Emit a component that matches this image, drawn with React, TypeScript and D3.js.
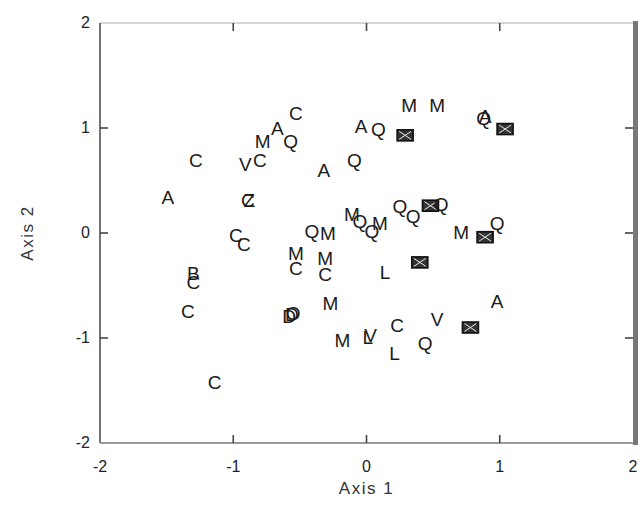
import React from "react";
import * as d3 from "d3";

// point labels and coordinates ("#" = boxed cross marker)
const pointLabels = [
  "C", "A", "M", "Q", "C", "V", "C", "A", "A", "C", "Z",
  "C", "C", "Q", "M", "M", "C", "M", "C", "B", "C", "C",
  "D", "D", "O", "M", "C", "M", "L", "V", "C", "L", "V", "Q",
  "#", "A", "L", "#", "M", "Q", "#",
  "M", "Q", "M", "Q", "Q", "Q", "#", "Q", "Q",
  "A", "Q", "#", "M", "M", "Q", "A", "#",
];
const axis1Values = [
  -0.53, -0.67, -0.78, -0.57, -1.28, -0.91, -0.80, -0.32, -1.49, -0.89, -0.88,
  -0.98, -0.92, -0.41, -0.29, -0.53, -0.53, -0.31, -0.31, -1.30, -1.30, -1.34,
  -0.58, -0.56, -0.55, -0.27, -1.14, -0.18, 0.01, 0.03, 0.23, 0.21, 0.53, 0.44,
  0.78, 0.98, 0.14, 0.40, 0.71, 0.98, 0.89,
  -0.11, -0.05, 0.10, 0.04, 0.25, 0.35, 0.48, 0.56, -0.09,
  -0.04, 0.09, 0.29, 0.32, 0.53, 0.88, 0.89, 1.04,
];
const axis2Values = [
  1.14, 1.0, 0.88, 0.88, 0.70, 0.66, 0.70, 0.60, 0.34, 0.31, 0.31,
  -0.02, -0.10, 0.02, 0.0, -0.19, -0.33, -0.24, -0.39, -0.38, -0.47, -0.74,
  -0.79, -0.77, -0.76, -0.67, -1.42, -1.02, -0.99, -0.97, -0.88, -1.14, -0.82, -1.05,
  -0.90, -0.65, -0.37, -0.28, 0.01, 0.10, -0.04,
  0.18, 0.11, 0.10, 0.02, 0.26, 0.16, 0.26, 0.28, 0.70,
  1.02, 0.99, 0.93, 1.22, 1.22, 1.10, 1.11, 0.99,
];
const tickValues = [-2, -1, 0, 1, 2];

const W = 638;
const H = 507;
const left = 100, right = 633, top = 23, bottom = 443;

const App = () => {
  const x = d3.scaleLinear().domain([-2, 2]).range([left, right]);
  const y = d3.scaleLinear().domain([-2, 2]).range([bottom, top]);
  const font = "Liberation Sans, Arial, sans-serif";
  const inner = tickValues.filter((t) => t !== -2 && t !== 2);

  return (
    <svg width={W} height={H} style={{ position: "absolute", left: 0, top: 0, background: "#fff" }}>
      {/* frame */}
      <line x1={left} x2={right} y1={top} y2={top} stroke="#c8c8c8" strokeWidth={1.5} />
      <line x1={left} x2={left} y1={top} y2={bottom} stroke="#444" strokeWidth={1.5} />
      <line x1={left} x2={right} y1={bottom} y2={bottom} stroke="#999" strokeWidth={2} />
      <rect x={right} y={top - 2} width={6} height={bottom - top + 4} fill="#777" />

      {/* ticks pointing inward */}
      {inner.map((t) => (
        <g key={"t" + t} stroke="#444" strokeWidth={1.6}>
          <line x1={x(t)} x2={x(t)} y1={top} y2={top + 8} />
          <line x1={x(t)} x2={x(t)} y1={bottom} y2={bottom - 8} />
          <line x1={left} x2={left + 8} y1={y(t)} y2={y(t)} />
          <line x1={right} x2={right - 8} y1={y(t)} y2={y(t)} />
        </g>
      ))}

      {/* tick labels */}
      {tickValues.map((t) => (
        <text key={"xl" + t} x={x(t)} y={bottom + 29} textAnchor="middle" fontFamily={font} fontSize={16} fill="#222">
          {t}
        </text>
      ))}
      {tickValues.map((t) => (
        <text key={"yl" + t} x={left - 10} y={y(t) + 5} textAnchor="end" fontFamily={font} fontSize={16} fill="#222">
          {t}
        </text>
      ))}

      {/* axis titles */}
      <text x={(left + right) / 2} y={494} textAnchor="middle" fontFamily={font} fontSize={17} letterSpacing={1.5} fill="#333">
        Axis 1
      </text>
      <text
        transform={`translate(33,${(top + bottom) / 2}) rotate(-90)`}
        textAnchor="middle"
        fontFamily={font}
        fontSize={17}
        letterSpacing={1.5}
        fill="#333"
      >
        Axis 2
      </text>

      {/* points */}
      {pointLabels.map((lab, i) => {
        const px = x(axis1Values[i]);
        const py = y(axis2Values[i]);
        if (lab === "#") {
          return (
            <g key={i} stroke="#111" strokeWidth={1.6}>
              <rect x={px - 8} y={py - 5.5} width={16} height={11} fill="#333" />
              <line x1={px - 6} x2={px + 6} y1={py - 4} y2={py + 4} stroke="#eee" strokeWidth={1} />
              <line x1={px - 6} x2={px + 6} y1={py + 4} y2={py - 4} stroke="#eee" strokeWidth={1} />
            </g>
          );
        }
        return (
          <text key={i} x={px} y={py + 7} textAnchor="middle" fontFamily={font} fontSize={19} fill="#1a1a1a">
            {lab}
          </text>
        );
      })}
    </svg>
  );
};

export default App;
